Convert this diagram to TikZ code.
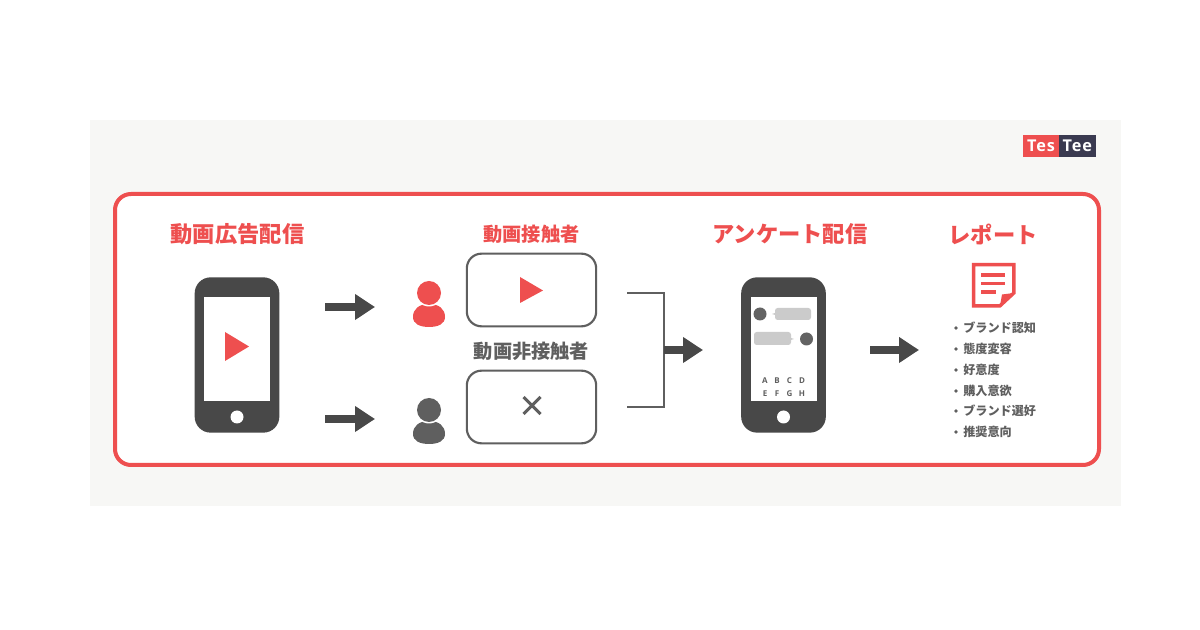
\documentclass[tikz,border=0pt]{standalone}
\usepackage{fontspec}
\usetikzlibrary{arrows.meta}
\newfontfamily\jpfont{Noto Sans CJK JP}
\newfontfamily\logofont[LetterSpace=6]{Open Sans}
\newfontfamily\keyfont{Open Sans}
\definecolor{accent}{HTML}{EE4F4F}
\definecolor{dark}{HTML}{484848}
\definecolor{midgray}{HTML}{5F5F5F}
\definecolor{bubble}{HTML}{CBCBCB}
\definecolor{panelbg}{HTML}{F7F7F5}
\definecolor{logonavy}{HTML}{3A3A50}
\tikzset{
  bigtitle/.style={font=\jpfont\bfseries\fontsize{16.7}{20}\selectfont, text=accent, inner sep=0pt},
  subtitle/.style={font=\jpfont\bfseries\fontsize{14.4}{18}\selectfont, inner sep=0pt},
  listitem/.style={font=\jpfont\bfseries\fontsize{9.1}{11}\selectfont, text=midgray, anchor=west, inner sep=0pt},
  phonebody/.style={fill=dark, rounded corners=12pt, minimum width=63.5pt, minimum height=116.5pt, inner sep=0pt},
  phonescreen/.style={fill=white, minimum width=49.5pt, minimum height=78pt, inner sep=0pt},
  fatarrow/.style={draw=dark, line width=6pt, -{Triangle[length=15pt, width=18.5pt]}},
  choicebox/.style={draw=midgray, line width=1.6pt, fill=white, rounded corners=11pt, minimum width=97pt, minimum height=54.5pt, inner sep=0pt},
  keyletter/.style={font=\keyfont\bfseries\fontsize{6}{7}\selectfont, text=midgray, inner sep=0pt},
  logotext/.style={font=\logofont\bfseries\fontsize{12.2}{14}\selectfont, text=white, inner sep=0pt, minimum height=16.5pt}
}
\begin{document}
\begin{tikzpicture}[x=0.75pt,y=-0.75pt]

  \useasboundingbox (0,0) rectangle (1200,630);
  \fill[white] (0,0) rectangle (1200,630);
  \fill[panelbg] (90,120) rectangle (1121,506);
  \draw[accent, line width=3pt, fill=white, rounded corners=12pt] (115,194) rectangle (1099,465);

  % logo
  \node[logotext, fill=accent, minimum width=27.4pt] (logotes) at (1041,146) {Tes};
  \node[logotext, fill=logonavy, minimum width=27.4pt] (logotee) at (1077.3,146) {Tee};

  % titles
  \node[bigtitle] (admovie) at (237.5,234) {動画広告配信};
  \node[subtitle, text=accent] (seen) at (531.5,234) {動画接触者};
  \node[subtitle, text=midgray] (unseen) at (531.5,351) {動画非接触者};
  \node[bigtitle] (survey) at (790,234) {アンケート配信};
  \node[bigtitle] (report) at (993,234) {レポート};

  % first phone
  \node[phonebody] (phonea) at (237,355) {};
  \node[phonescreen] (screena) at (237,349.5) {};
  \fill[white] (237,417) circle (6.5);
  \fill[accent] (225,332) -- (249,346.5) -- (225,361) -- cycle;

  % arrows to the viewers
  \coordinate (a1) at (325,307);
  \coordinate (a2) at (375,307);
  \coordinate (b1) at (325,419);
  \coordinate (b2) at (375,419);
  \draw[fatarrow] (a1) -- (a2);
  \draw[fatarrow] (b1) -- (b2);

  % viewers
  \foreach \py/\pc in {293/accent,410/midgray} {
    \fill[\pc] (413,\py+24) .. controls (413,\py+16) and (419,\py+11) .. (429,\py+11)
      .. controls (439,\py+11) and (445,\py+16) .. (445,\py+24)
      .. controls (445,\py+31) and (438,\py+34) .. (429,\py+34)
      .. controls (420,\py+34) and (413,\py+31) .. (413,\py+24) -- cycle;
    \fill[white] (429,\py) circle (13.5);
    \fill[\pc] (429,\py) circle (12);
  }

  % boxes
  \node[choicebox] (seenbox) at (531.5,290) {};
  \node[choicebox] (unseenbox) at (531.5,407) {};
  \fill[accent] (520,277) -- (543,290.5) -- (520,303) -- cycle;
  \draw[midgray, line width=2.2pt] (523.5,397) -- (540.5,414) (540.5,397) -- (523.5,414);

  % bracket
  \coordinate (c1) at (627,293);
  \coordinate (c2) at (664,293);
  \coordinate (c3) at (664,407);
  \coordinate (c4) at (627,407);
  \coordinate (c5) at (664,350);
  \coordinate (c6) at (703,350);
  \draw[midgray, line width=1.6pt] (c1) -- (c2) -- (c3) -- (c4);
  \draw[fatarrow] (c5) -- (c6);

  % second phone
  \node[phonebody] (phoneb) at (783.5,355) {};
  \node[phonescreen] (screenb) at (783.5,349.5) {};
  \fill[white] (783.5,417) circle (6.5);
  \fill[dark!85] (760,314) circle (6.5) (806.5,339) circle (6.5);
  \fill[bubble, rounded corners=2pt] (775,308) rectangle (811,320);
  \fill[bubble, rounded corners=2pt] (754,332) rectangle (791,345);
  \fill[bubble] (775,313) -- (772,314) -- (775,315) -- cycle;
  \fill[bubble] (791,338) -- (794,339) -- (791,340) -- cycle;
  \foreach \ltr/\lx/\ly in {A/765/381,B/777/381,C/789.5/381,D/802/381,E/765/394,F/777/394,G/789.5/394,H/802/394}
    \node[keyletter] (key\ltr) at (\lx,\ly) {\ltr};

  \coordinate (d1) at (870,350);
  \coordinate (d2) at (919,350);
  \draw[fatarrow] (d1) -- (d2);

  % report icon
  \draw[accent, line width=2.6pt, line join=miter] (973.7,264.7) -- (1013.8,264.7) -- (1013.8,293) -- (1000,305.8) -- (973.7,305.8) -- cycle;
  \fill[accent] (1000,306) -- (1002,294.5) -- (1014,293) -- cycle;
  \draw[accent, line width=2.4pt] (981,275) -- (1005,275) (981,283.5) -- (1005,283.5) (981,292) -- (996,292);

  % list
  \foreach \ny/\txt in {328/ブランド認知,349/態度変容,370/好意度,391/購入意欲,411/ブランド選好,432/推奨意向} {
    \fill[midgray] (956,\ny) circle (1.8);
    \node[listitem] (item\ny) at (963,\ny) {\txt};
  }

\end{tikzpicture}
\end{document}
